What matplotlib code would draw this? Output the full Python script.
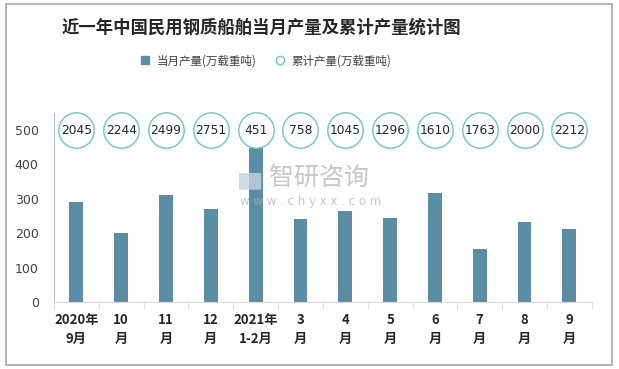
import numpy as np
import matplotlib.pyplot as plt
from matplotlib.lines import Line2D
from matplotlib.patches import Rectangle

plt.rcParams['font.family'] = ['Noto Sans CJK SC', 'DejaVu Sans']

# data
months = ['2020年\n9月', '10\n月', '11\n月', '12\n月', '2021年\n1-2月', '3\n月',
          '4\n月', '5\n月', '6\n月', '7\n月', '8\n月', '9\n月']
monthly = [290, 200, 311, 270, 448, 241, 264, 244, 316, 153, 232, 212]
cumulative = [2045, 2244, 2499, 2751, 451, 758, 1045, 1296, 1610, 1763, 2000, 2212]

bar_color = '#5b8ea6'
ring_color = '#6cc9c0'

fig = plt.figure(figsize=(6.19, 3.69), dpi=100)
fig.patches.append(Rectangle((0.01, 0.011), 0.978, 0.978, transform=fig.transFigure,
                             fill=False, edgecolor='#a6a6a6', linewidth=1.2))
ax = fig.add_axes([0.0872, 0.1816, 0.8688, 0.5124])

index = np.arange(len(months))
ax.bar(index, monthly, 0.31, color=bar_color, zorder=2)

# cumulative values shown as circles along the top
ax.scatter(index, [500] * len(index), s=25.5 ** 2, facecolor='white',
           edgecolor=ring_color, linewidth=1.0, zorder=3, clip_on=False)
for i, v in zip(index, cumulative):
    ax.text(i, 500, str(v), ha='center', va='center', fontsize=8.8,
            color='#262626', zorder=4, family='DejaVu Sans')

ax.set_xlim(-0.5, len(months) - 0.5)
ax.set_ylim(0, 550)
ax.set_yticks([0, 100, 200, 300, 400, 500])
ax.tick_params(axis='y', length=0, labelsize=9, labelcolor='#404040', pad=11)
for lbl in ax.get_yticklabels():
    lbl.set_family('DejaVu Sans')

ax.set_xticks(index)
ax.set_xticklabels(months, fontsize=9.5, fontweight='bold', color='#262626',
                   linespacing=1.45)
ax.tick_params(axis='x', which='major', length=0, pad=8)
ax.set_xticks(np.arange(-0.5, len(months)), minor=True)
ax.tick_params(axis='x', which='minor', length=5, color='#d9d9d9')

for s in ['top', 'right']:
    ax.spines[s].set_visible(False)
ax.spines['left'].set_color('#bfbfbf')
ax.spines['bottom'].set_color('#d9d9d9')

# watermark
fig.text(0.386, 0.495, '▆', fontsize=16, color='#c5d3e3', alpha=0.8)
fig.text(0.435, 0.5, '智研咨询', fontsize=18, color='#b0b0b0', alpha=0.7)
fig.text(0.388, 0.445, 'w w w . c h y x x . c o m', fontsize=8.5, color='#b0b0b0',
         alpha=0.7, family='DejaVu Sans')

fig.text(0.422, 0.925, '近一年中国民用钢质船舶当月产量及累计产量统计图',
         ha='center', va='center', fontsize=12.5, fontweight='bold', color='#262626')

handles = [Line2D([], [], marker='s', linestyle='none', markersize=6,
                  markerfacecolor=bar_color, markeredgecolor=bar_color),
           Line2D([], [], marker='o', linestyle='none', markersize=6,
                  markerfacecolor='white', markeredgecolor=ring_color)]
fig.legend(handles, ['当月产量(万载重吨)', '累计产量(万载重吨)'], loc='center',
           bbox_to_anchor=(0.424, 0.835), ncol=2, frameon=False, fontsize=8.3,
           handletextpad=0.0, columnspacing=1.0, labelcolor='#404040')

fig.savefig('out.png', dpi=100)
